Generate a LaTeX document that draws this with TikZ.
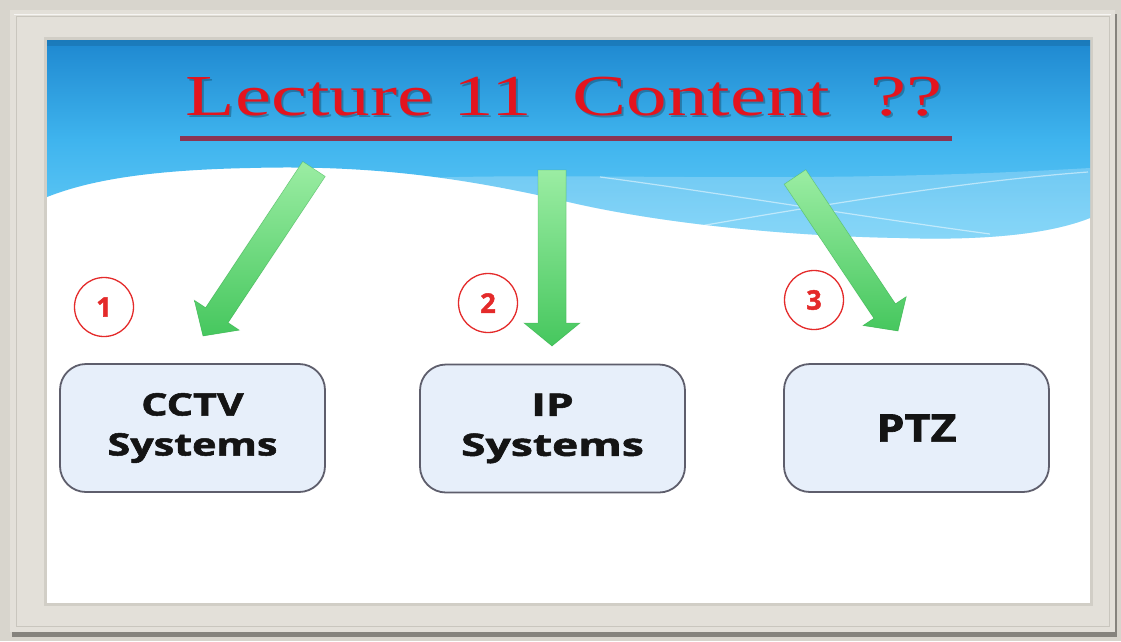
\documentclass[tikz,border=0pt]{standalone}
\usepackage{fontspec}
\setmainfont{Liberation Serif}
\newfontfamily\boxfont[BoldFeatures={FakeBold=1.6}]{Open Sans}
\usetikzlibrary{calc}
\definecolor{bgout}{HTML}{D8D5CD}
\definecolor{framec}{HTML}{E3E0D9}
\definecolor{frameedge}{HTML}{C9C6BE}
\definecolor{shadowc}{HTML}{85837D}
\definecolor{bluetop}{HTML}{1E88D0}
\definecolor{bluemid}{HTML}{3FB4EE}
\definecolor{bluebot}{HTML}{66CCF7}
\definecolor{titlered}{HTML}{E3141E}
\definecolor{ulinec}{HTML}{8C3452}
\definecolor{greenlight}{HTML}{9BEDA3}
\definecolor{greendark}{HTML}{46C75E}
\definecolor{boxfill}{HTML}{E7EFFA}
\definecolor{boxedge}{HTML}{5E5E6C}
\definecolor{numred}{HTML}{E42A2A}
\newcommand\stretchx[2]{\scalebox{#1}[1]{#2}}
\newcommand\fatarrow[5]{% tail, tip, name of head base, shaft half width, head length
  \coordinate (#3) at ($(#2)!#5!(#1)$);
  \path[fill=greendark, top color=greenlight, bottom color=greendark, draw=greendark!80!black, draw opacity=0.25, line width=0.8pt]
    ($(#1)!#4!90:(#2)$) -- ($(#3)!#4!90:(#2)$) -- ($(#3)!2.0*#4!90:(#2)$)
    -- (#2) -- ($(#3)!2.0*#4!-90:(#2)$) -- ($(#3)!#4!-90:(#2)$) -- ($(#1)!#4!-90:(#2)$) -- cycle;}
\tikzset{
  topicbox/.style={draw=boxedge, line width=1.8pt, fill=boxfill, rounded corners=26pt,
    minimum width=265pt, minimum height=128pt, align=center, text=black!92,
    font=\boxfont\bfseries\fontsize{31}{40}\selectfont},
  numcircle/.style={circle, draw=numred, line width=1.3pt, minimum size=59pt, inner sep=0pt,
    text=numred, font=\boxfont\bfseries\fontsize{27}{27}\selectfont},
}
\begin{document}
\begin{tikzpicture}[x=1pt,y=-1pt]
\useasboundingbox (0,0) rectangle (1121,641);
% outer background and frame
\fill[bgout] (0,0) rectangle (1121,641);
\fill[shadowc] (12,14) rectangle (1117,637);
\fill[framec] (10,10) rectangle (1115,632);
\draw[frameedge, line width=1pt] (16,16) rectangle (1109,626);
\draw[white, line width=1pt, opacity=0.7] (14,14) -- (1111,14);
\fill[frameedge!70!framec] (44,37) rectangle (1093,606);
% slide area
\fill[white] (47,40) rectangle (1090,603);
% blue band with wave
\shade[top color=bluetop, bottom color=bluebot, middle color=bluemid]
  (47,40) -- (1090,40) -- (1090,218)
  .. controls (1040,238) and (960,240) .. (900,238)
  .. controls (780,236) and (650,222) .. (560,200)
  .. controls (450,175) and (360,165) .. (250,168)
  .. controls (150,170) and (90,180) .. (47,197) -- cycle;
\fill[bluetop!60!black, opacity=0.25] (47,40) rectangle (1090,46);
% lighter translucent band
\fill[white, opacity=0.22]
  (420,178) .. controls (600,172) and (800,185) .. (1090,168)
  -- (1090,218)
  .. controls (1040,238) and (960,240) .. (900,238)
  .. controls (780,236) and (650,222) .. (560,200)
  .. controls (500,188) and (460,182) .. (420,178) -- cycle;
\draw[white, opacity=0.5, line width=1.2pt] (600,177) .. controls (700,190) and (850,215) .. (990,234);
\draw[white, opacity=0.5, line width=1.2pt] (700,226) .. controls (850,200) and (980,180) .. (1088,172);
% title
\node[text=black, opacity=0.25, font=\fontsize{58}{58}\selectfont, anchor=base] (titleshadow) at (566,117)
  {\stretchx{1.40}{Lecture 11\hspace{0.5em}Content\hspace{0.5em}??}};
\node[text=titlered, font=\fontsize{58}{58}\selectfont, anchor=base] (title) at (564,115)
  {\stretchx{1.40}{Lecture 11\hspace{0.5em}Content\hspace{0.5em}??}};
\coordinate (ulL) at (180,138);
\coordinate (ulR) at (952,138);
\draw[ulinec, line width=5pt] (ulL) -- (ulR);
% arrows
\coordinate (t1) at (314,169); \coordinate (p1) at (203,336);
\coordinate (t2) at (552,170); \coordinate (p2) at (552,346);
\coordinate (t3) at (795,177); \coordinate (p3) at (898,331);
\fatarrow{t1}{p1}{h1}{13.5pt}{25pt}
\fatarrow{t2}{p2}{h2}{14pt}{23pt}
\fatarrow{t3}{p3}{h3}{13pt}{24pt}
% number circles
\node[numcircle] (n1) at (104,307) {1};
\node[numcircle] (n2) at (488,303) {2};
\node[numcircle] (n3) at (814,300) {3};
% boxes
\node[topicbox] (b1) at (192.5,428) {\stretchx{1.33}{CCTV}\\\stretchx{1.33}{Systems}};
\node[topicbox] (b2) at (552.5,428.5) {\stretchx{1.43}{IP}\\\stretchx{1.43}{Systems}};
\node[topicbox, font=\boxfont\bfseries\fontsize{38}{40}\selectfont] (b3) at (916.5,428) {\stretchx{1.18}{PTZ}};
\end{tikzpicture}
\end{document}
